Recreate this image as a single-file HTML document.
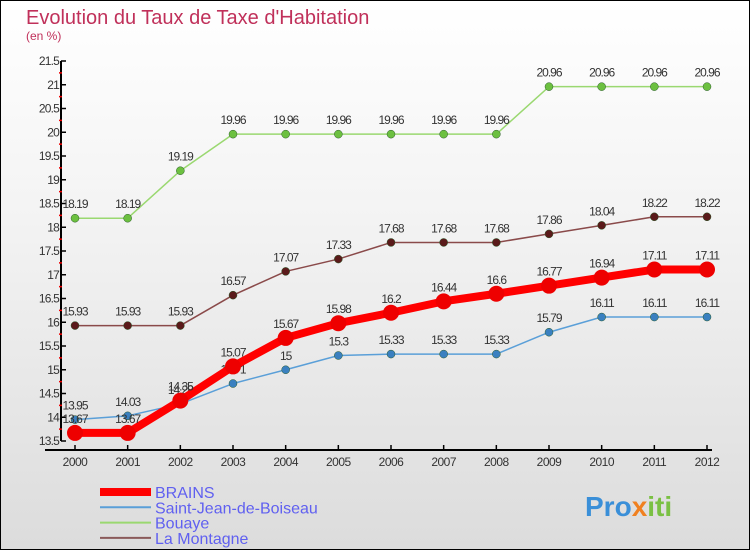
<!DOCTYPE html>
<html><head><meta charset="utf-8"><style>
body{margin:0;}
#c{width:750px;height:550px;position:relative;box-sizing:border-box;border:1px solid #000;background:linear-gradient(#fff,#f3f3f3 40%,#dcdcdc);overflow:hidden;font-family:"Liberation Sans",sans-serif;}
text{font-family:"Liberation Sans",sans-serif;}
</style></head><body>
<div id="c">
<svg id="s" width="750" height="550" style="position:absolute;left:-1px;top:-1px">
<text x="26" y="24" font-size="20" fill="#c0305a">Evolution du Taux de Taxe d'Habitation</text>
<text x="26" y="40" font-size="12" fill="#c0305a">(en %)</text>
<g id="g"></g>
<text x="585" y="516" font-size="28" font-weight="bold" fill="#3a8fd8">Pro<tspan fill="#f08020">x</tspan><tspan fill="#7ac043">iti</tspan></text>
</svg>
</div>
<script>
const years=["2000","2001","2002","2003","2004","2005","2006","2007","2008","2009","2010","2011","2012"];
const brains=[13.67,13.67,14.35,15.07,15.67,15.98,16.2,16.44,16.6,16.77,16.94,17.11,17.11];
const stjean=[13.95,14.03,14.28,14.71,15,15.3,15.33,15.33,15.33,15.79,16.11,16.11,16.11];
const bouaye=[18.19,18.19,19.19,19.96,19.96,19.96,19.96,19.96,19.96,20.96,20.96,20.96,20.96];
const montagne=[15.93,15.93,15.93,16.57,17.07,17.33,17.68,17.68,17.68,17.86,18.04,18.22,18.22];
const yTicks=[13.5,14,14.5,15,15.5,16,16.5,17,17.5,18,18.5,19,19.5,20,20.5,21,21.5];
const seriesNames=["BRAINS","Saint-Jean-de-Boiseau","Bouaye","La Montagne"];
const NS="http://www.w3.org/2000/svg";
const g=document.getElementById('g');
const X=i=>75+i*(707-75)/12;
const Y=v=>441-(v-13.5)*47.5;
function el(t,a){const e=document.createElementNS(NS,t);for(const k in a)e.setAttribute(k,a[k]);g.appendChild(e);return e;}
let e;
e=el('line',{x1:61,y1:61,x2:61,y2:441,stroke:'#000','stroke-width':2});


e=el('line',{x1:45,y1:450,x2:712,y2:450,stroke:'#000','stroke-width':2});


yTicks.forEach((v,i)=>{
 e=el('line',{x1:61,x2:66,y1:Y(v),y2:Y(v),stroke:'#000','stroke-width':1.5});
 
 
 if(i<yTicks.length-1){e=el('line',{x1:59,x2:62,y1:Y(v+0.25),y2:Y(v+0.25),stroke:'#e00','stroke-width':1.5});
 
 }
 e=el('text',{x:59,y:Y(v)+4,'font-size':12,'text-anchor':'end',fill:'#333','letter-spacing':'-0.8'});
 e.textContent=String(v);
 
 
});
years.forEach((y,i)=>{
 e=el('line',{x1:X(i),x2:X(i),y1:445,y2:450,stroke:'#000','stroke-width':1.5});
 
 
 e=el('text',{x:X(i),y:466,'font-size':12,'text-anchor':'middle',fill:'#333','letter-spacing':'-0.5'});
 e.textContent=y;
 
 
});
const cfg=[[bouaye,'#9ad870','#6cc040',1.5,4,'bouaye'],[montagne,'#8a4a4a','#5a1a1a',1.5,4,'la-montagne'],[stjean,'#5a9fd8','#3a80c0',1.5,4,'saint-jean-de-boiseau'],[brains,'#f00','#e00',8,8,'brains']];
cfg.forEach(([d,lc,pc,w,r,n])=>{
 e=el('polyline',{points:d.map((v,i)=>X(i)+','+Y(v)).join(' '),fill:'none',stroke:lc,'stroke-width':w,'stroke-linejoin':'round'});
 
 
 d.forEach((v,i)=>{
  e=el('circle',{cx:X(i),cy:Y(v),r:r,fill:pc,stroke:n=='brains'?'#d00':'#2a5a2a','stroke-width':n=='brains'?0:0.5});
  
  
  e=el('text',{x:X(i),y:Y(v)-10,'font-size':12,'text-anchor':'middle',fill:'#333','letter-spacing':'-1'});
  e.textContent=String(v);
  
  
 });
});
const lc=['#f00','#5a9fd8','#9ad870','#8a5a5a'],lw=[8,2,2,2];
seriesNames.forEach((n,i)=>{
 const y=492+i*15.3;
 e=el('line',{x1:100,x2:151,y1:y,y2:y,stroke:lc[i],'stroke-width':lw[i]});
 
 
 e=el('text',{x:155,y:y+6,'font-size':16,fill:'#6060f0'});
 e.textContent=n;
 
 
});
</script>
</body></html>
